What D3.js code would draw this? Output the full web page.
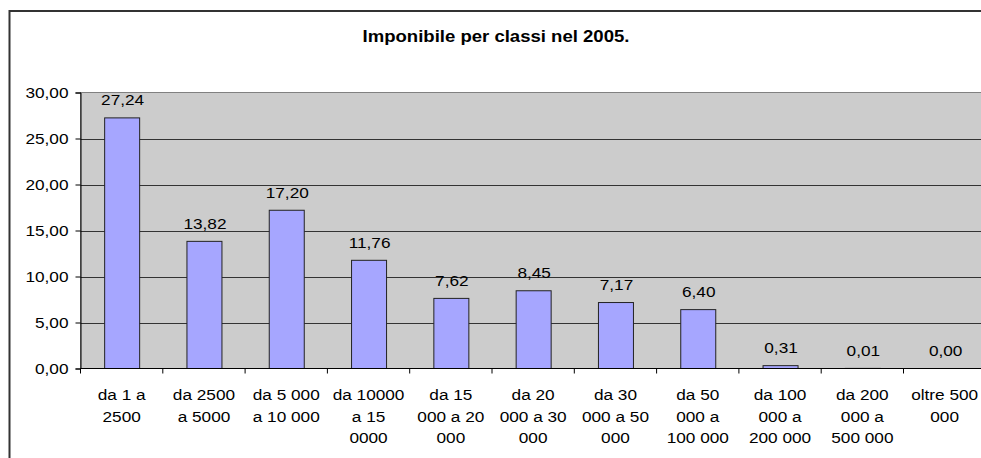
<!DOCTYPE html>
<html>
<head>
<meta charset="utf-8">
<script src="https://cdn.jsdelivr.net/npm/d3@7"></script>
<style>
  html, body { margin: 0; padding: 0; background: #fff; overflow: hidden; }
  svg { display: block; overflow: hidden; }
  text { font-family: "Liberation Sans", Arial, sans-serif; fill: #000; }
</style>
</head>
<body>
<svg id="chart" width="981" height="458"></svg>
<script>
const title = "Imponibile per classi nel 2005.";
const categories = [
  ["da 1 a", "2500"],
  ["da 2500", "a 5000"],
  ["da 5 000", "a 10 000"],
  ["da 10000", "a 15", "0000"],
  ["da 15", "000 a 20", "000"],
  ["da 20", "000 a 30", "000"],
  ["da 30", "000 a 50", "000"],
  ["da 50", "000 a", "100 000"],
  ["da 100", "000 a", "200 000"],
  ["da 200", "000 a", "500 000"],
  ["oltre 500", "000"]
];
const values = [27.24, 13.82, 17.20, 11.76, 7.62, 8.45, 7.17, 6.40, 0.31, 0.01, 0.00];
const yTicks = [0, 5, 10, 15, 20, 25, 30];

const svg = d3.select("#chart");
const fmt = v => d3.format(".2f")(v).replace(".", ",");
const SX = 1.23; // horizontal stretch of the reference's text

function stretched(parent, cx, cy, str, anchor, size, sx, weight) {
  const g = parent.append("g").attr("transform", `translate(${cx},${cy}) scale(${sx},1)`);
  return g.append("text")
    .attr("x", 0).attr("y", 0)
    .attr("text-anchor", anchor)
    .style("font-size", size + "px")
    .style("font-weight", weight || "normal")
    .text(str);
}

// outer chart border: only top and left edges are visible in the reference
svg.append("path")
  .attr("d", "M9.5,470 L9.5,11 L990,11")
  .attr("fill", "none").attr("stroke", "#333").attr("stroke-width", 2);

// title
{
  const t = stretched(svg, 496, 42, title, "middle", 16.5, 1, "bold");
  const w = t.node().getComputedTextLength();
  d3.select(t.node().parentNode).attr("transform", `translate(496,42) scale(${267 / w},1)`);
}

const plotLeft = 80.5, plotTop = 92.5, plotBottom = 368.5;
const bandW = 82.3;
const x = d3.scaleBand()
  .domain(d3.range(categories.length))
  .range([plotLeft, plotLeft + bandW * categories.length])
  .paddingInner(0).paddingOuter(0);
const y = d3.scaleLinear().domain([0, 30]).range([plotBottom, plotTop]);

// plot area
svg.append("rect")
  .attr("x", plotLeft).attr("y", plotTop)
  .attr("width", x.range()[1] - plotLeft).attr("height", plotBottom - plotTop)
  .attr("fill", "#cccccc").attr("stroke", "#808080").attr("stroke-width", 1);

// gridlines
svg.append("g").selectAll("line").data(yTicks.filter(d => d > 0 && d < 30)).join("line")
  .attr("x1", plotLeft).attr("x2", x.range()[1])
  .attr("y1", d => Math.round(y(d)) + 0.5).attr("y2", d => Math.round(y(d)) + 0.5)
  .attr("stroke", "#333").attr("stroke-width", 1);

// bars
const barW = 35;
svg.append("g").selectAll("rect").data(values).join("rect")
  .attr("x", (d, i) => x(i) + (bandW - barW) / 2 + 0.5)
  .attr("y", d => y(d))
  .attr("width", barW)
  .attr("height", d => plotBottom - y(d))
  .attr("fill", "#a6a6ff").attr("stroke", "#222").attr("stroke-width", 1);

// data labels
const gl = svg.append("g");
values.forEach((d, i) => {
  stretched(gl, x(i) + bandW / 2 + 1, y(d) - 12.5, fmt(d), "middle", 14, SX);
});

// y axis
const yAxis = d3.axisLeft(y).tickValues(yTicks).tickSize(5).tickFormat("");
const gy = svg.append("g").attr("transform", `translate(${plotLeft},0)`).call(yAxis);
gy.select(".domain").attr("stroke", "#000");
gy.selectAll(".tick line").attr("stroke", "#000");
const gyl = svg.append("g");
yTicks.forEach(t => {
  stretched(gyl, 68.5, y(t) + 5, fmt(t), "end", 14, SX);
});

// x axis line and ticks
svg.append("line")
  .attr("x1", plotLeft).attr("x2", x.range()[1])
  .attr("y1", plotBottom).attr("y2", plotBottom)
  .attr("stroke", "#000");
svg.append("g").selectAll("line").data(d3.range(categories.length + 1)).join("line")
  .attr("x1", i => plotLeft + i * bandW).attr("x2", i => plotLeft + i * bandW)
  .attr("y1", plotBottom).attr("y2", plotBottom + 5)
  .attr("stroke", "#000");

// x labels
const gxl = svg.append("g");
categories.forEach((lines, i) => {
  lines.forEach((ln, j) => {
    stretched(gxl, x(i) + bandW / 2, 400 + j * 21.7, ln, "middle", 14, SX);
  });
});
</script>
</body>
</html>
